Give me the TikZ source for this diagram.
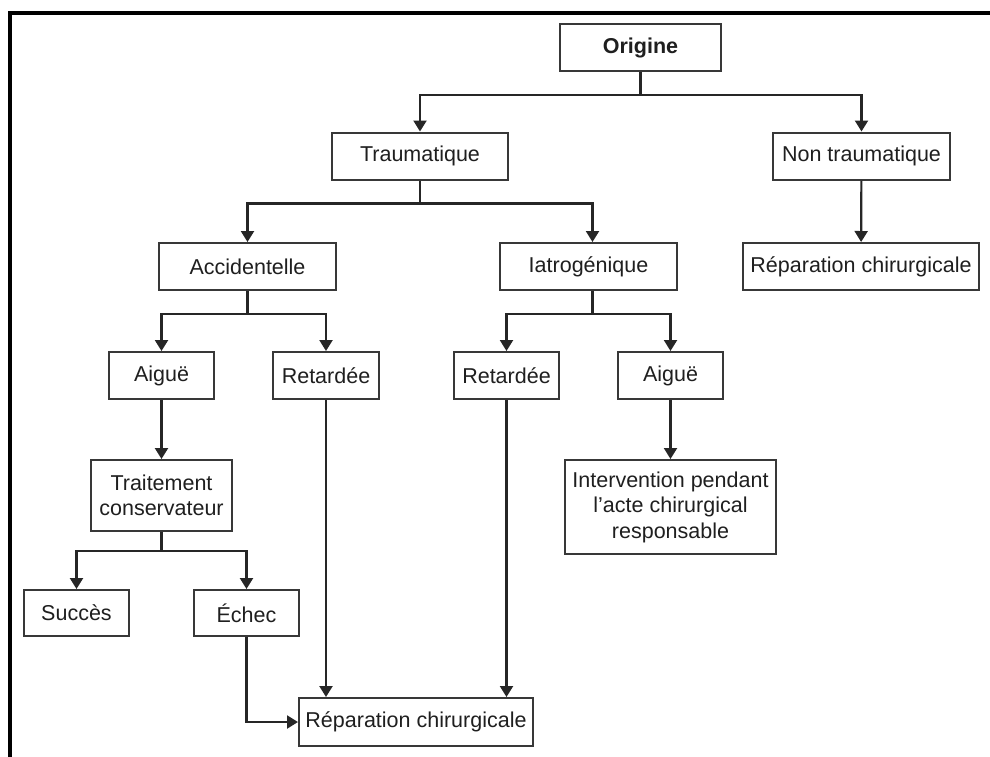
\documentclass[tikz,border=0pt]{standalone}
\usepackage{fontspec}
\setmainfont{Liberation Sans}
\usetikzlibrary{arrows.meta}
\begin{document}
\begin{tikzpicture}[x=1pt,y=-1pt,
  box/.style={draw=black!78, line width=2pt, fill=white, minimum height=47pt, inner sep=0pt,
              align=center, text=black!88, font={\fontsize{21.5}{25.5}\selectfont}},
  arr/.style={draw=black!85, line width=2.2pt, -{Triangle[length=11pt,width=13pt]}},
  frame/.style={line width=4pt, line join=miter, draw=black}]
\useasboundingbox (0,0) rectangle (990,756);
\draw[frame] (10.3,770) -- (10.3,13) -- (1000,13);

\node[box, minimum width=161pt, font={\fontsize{21.5}{25.5}\selectfont\bfseries}] (origine) at (640.5,47.5) {Origine};
\node[box, minimum width=176pt] (traum) at (420,156) {Traumatique};
\node[box, minimum width=177pt] (nontraum) at (861.5,156) {Non traumatique};
\node[box, minimum width=236pt] (repR) at (861,266.5) {Réparation chirurgicale};
\node[box, minimum width=177pt] (accid) at (247.5,266.5) {Accidentelle};
\node[box, minimum width=177pt] (iatro) at (588.5,266.5) {Iatrogénique};
\node[box, minimum width=105pt] (aigueL) at (161.5,375.5) {Aiguë};
\node[box, minimum width=106pt] (retL) at (326,375.5) {Retardée};
\node[box, minimum width=105pt] (retM) at (506.5,375.5) {Retardée};
\node[box, minimum width=105pt] (aigueR) at (670.5,375.5) {Aiguë};
\node[box, minimum width=141pt, minimum height=71pt] (traitement) at (161.5,495.5) {Traitement\\conservateur};
\node[box, minimum width=211pt, minimum height=94pt] (intervention) at (670.5,507) {Intervention pendant\\l’acte chirurgical\\responsable};
\node[box, minimum width=105pt, minimum height=46pt] (succes) at (76.5,613) {Succès};
\node[box, minimum width=105pt, minimum height=46pt] (echec) at (246.5,613) {Échec};
\node[box, minimum width=234pt, minimum height=48pt] (repB) at (416,722) {Réparation chirurgicale};

\draw[arr] (origine.south) -- ++(0,23) -| (traum.north);
\draw[arr] (origine.south) -- ++(0,23) -| (nontraum.north);
\draw[arr] (nontraum) -- (repR);
\draw[arr] (traum.south) -- ++(0,23) -| (accid.north);
\draw[arr] (traum.south) -- ++(0,23) -| ([xshift=4pt]iatro.north);
\draw[arr] (accid.south) -- ++(0,23) -| (aigueL.north);
\draw[arr] (accid.south) -- ++(0,23) -| (retL.north);
\draw[arr] ([xshift=4pt]iatro.south) -- ++(0,23) -| (retM.north);
\draw[arr] ([xshift=4pt]iatro.south) -- ++(0,23) -| (aigueR.north);
\draw[arr] (aigueL) -- (traitement);
\draw[arr] (aigueR) -- (intervention);
\draw[arr] (traitement.south) -- ++(0,19) -| (succes.north);
\draw[arr] (traitement.south) -- ++(0,19) -| (echec.north);
\draw[arr] (retL) -- (retL |- repB.north);
\draw[arr] (retM) -- (retM |- repB.north);
\draw[arr] (echec) |- (repB);
\end{tikzpicture}
\end{document}
